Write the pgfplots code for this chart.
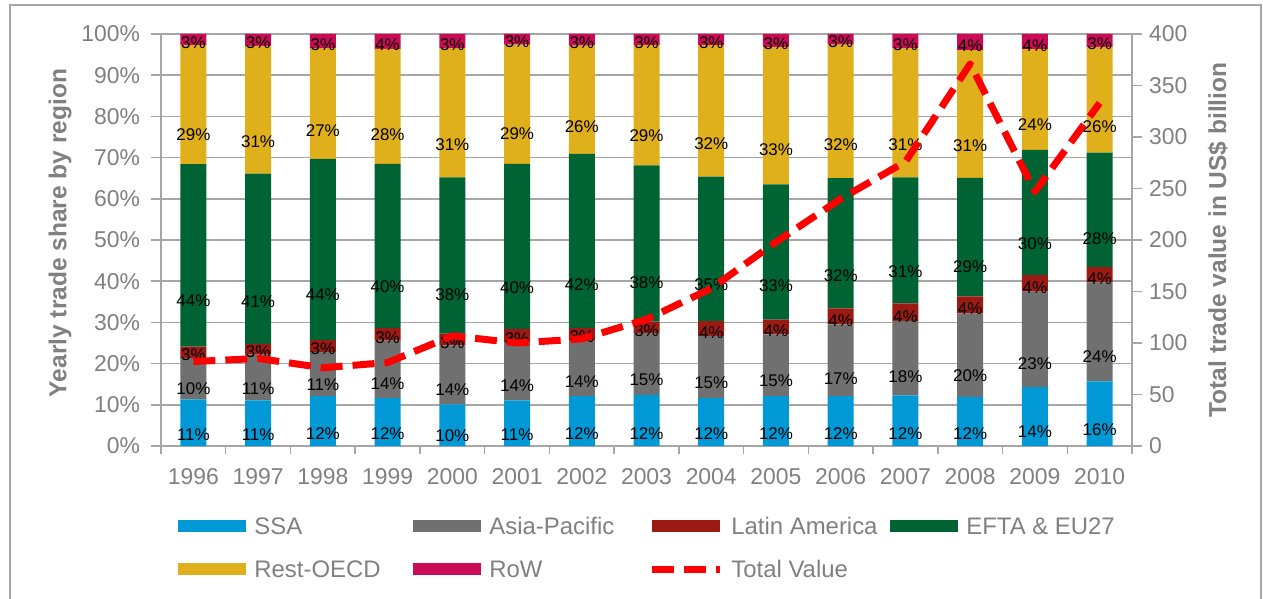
\documentclass[border=0pt]{standalone}
\usepackage{fontspec}
\setmainfont{Liberation Sans}
\usepackage{pgfplots}
\usepackage{pgfplotstable}
\pgfplotsset{compat=1.18}

\definecolor{ssa}{RGB}{0,153,213}
\definecolor{ap}{RGB}{112,112,112}
\definecolor{la}{RGB}{155,27,20}
\definecolor{efta}{RGB}{0,99,52}
\definecolor{ro}{RGB}{224,176,28}
\definecolor{rowc}{RGB}{201,12,85}
\definecolor{tot}{RGB}{255,0,0}
\definecolor{axgray}{RGB}{166,166,166}
\definecolor{txtgray}{RGB}{128,128,128}

% shares in % of yearly trade (x = 0 for 1996 ... 14 for 2010)
\pgfplotstableread{
x  ssa  ap   la  efta ro   row
0  11.3 10.1 2.7 44.3 28.9 2.7
1  11.1 11.1 2.6 41.3 31.0 2.9
2  12.1 10.7 2.9 44.0 26.9 3.4
3  11.6 14.0 3.0 39.9 27.9 3.6
4  10.1 14.3 2.9 37.9 31.4 3.4
5  11.1 14.2 3.1 40.1 28.9 2.6
6  12.1 13.6 2.9 42.3 26.3 2.8
7  12.4 15.0 2.8 37.9 29.2 2.7
8  11.6 15.1 3.6 35.1 31.9 2.7
9  12.1 15.0 3.6 32.8 33.4 3.1
10 12.1 17.4 3.9 31.6 32.4 2.6
11 12.3 18.1 4.2 30.6 31.4 3.4
12 11.9 20.3 4.1 28.8 31.0 3.9
13 14.3 23.2 4.0 30.4 24.4 3.7
14 15.7 24.0 3.7 27.8 25.7 3.1
}\shares

% total trade value, US$ billion
\pgfplotstableread{
x  tot
0  82
1  85
2  76
3  81
4  107
5  100
6  104
7  123
8  153
9  198
10 240
11 276
12 371
13 247
14 333
}\total

\pgfplotsset{
  barleg/.style={legend image code/.code={\fill[##1] (0bp,-3bp) rectangle (34bp,3bp);}},
  lineleg/.style={legend image code/.code={\draw[##1] (0bp,0bp) -- (34bp,0bp);}},
  seg/.style={fill=#1, draw=none, barleg},
  totline/.style={color=tot, line width=3.5bp, dash pattern=on 11bp off 5bp, line join=round},
  common/.style={
    at={(0,0)}, anchor=south west,
    scale only axis, width=485.5bp, height=206bp,
    xmin=-0.5, xmax=14.5,
    tick align=outside,
    major tick length=5bp, minor tick length=4bp,
    tick style={axgray, line width=0.75bp},
    axis line style={draw=axgray, line width=0.75bp, -},
    ticklabel style={font=\fontsize{11.5}{13}\selectfont, text=txtgray},
    /pgf/number format/assume math mode=true,
  },
}

\begin{document}
\begin{tikzpicture}
\useasboundingbox (-80.5bp,-76.5bp) rectangle (551bp,223bp);
\draw[axgray, line width=0.75bp] (-75.5bp,-78bp) -- (-75.5bp,220.5bp) -- (550bp,220.5bp) -- (550bp,-78bp);

\begin{axis}[
  common,
  ymin=0, ymax=100,
  ybar stacked, bar width=13bp,
  clip=false,
  axis x line*=bottom, axis y line*=left,
  xtick={0,...,14},
  xticklabels={1996,1997,1998,1999,2000,2001,2002,2003,2004,2005,2006,2007,2008,2009,2010},
  xticklabel style={yshift=-2.5bp},
  yticklabel style={xshift=-2bp},
  major x tick style={draw=none},
  minor xtick={-0.5,0.5,...,14.5},
  ytick={0,10,...,100},
  yticklabel={\pgfmathprintnumber{\tick}\%},
  ymajorgrids,
  major grid style={axgray, line width=0.75bp},
  point meta=explicit,
  visualization depends on=rawy \as \rawy,
  nodes near coords={\pgfmathprintnumber[fixed,precision=0]{\pgfplotspointmeta}\%},
  every node near coord/.append style={font=\fontsize{8.5}{10}\selectfont, text=black,
    anchor=center, yshift=-0.515bp*\rawy},
  legend columns=4,
  legend cell align=left,
  legend style={at={(axis description cs:0.0175,-0.1733)}, anchor=north west,
    draw=none, fill=none, inner sep=0pt,
    font=\fontsize{12}{14}\selectfont, text=txtgray,
    nodes={inner xsep=4bp, inner ysep=0pt, text height=8.6bp, text depth=0pt},
    row sep=12.9bp},
]
\addplot[seg=ssa]  table[x=x, y=ssa,  meta=ssa]  {\shares};
\addlegendentry{\makebox[75.5bp][l]{SSA}}
\addplot[seg=ap]   table[x=x, y=ap,   meta=ap]   {\shares};
\addlegendentry{\makebox[75.5bp][l]{Asia-Pacific}}
\addplot[seg=la]   table[x=x, y=la,   meta=la]   {\shares};
\addlegendentry{\makebox[75.5bp][l]{Latin America}}
\addplot[seg=efta] table[x=x, y=efta, meta=efta] {\shares};
\addlegendentry{\makebox[75.5bp][l]{EFTA \& EU27}}
\addplot[seg=ro]   table[x=x, y=ro,   meta=ro]   {\shares};
\addlegendentry{\makebox[75.5bp][l]{Rest-OECD}}
\addplot[seg=rowc] table[x=x, y=row,  meta=row]  {\shares};
\addlegendentry{\makebox[75.5bp][l]{RoW}}
\addlegendimage{totline, lineleg}
\addlegendentry{\makebox[75.5bp][l]{Total Value}}
\end{axis}

\begin{axis}[
  common,
  ymin=0, ymax=400,
  axis x line=none, axis y line*=right,
  ytick={0,50,...,400},
]
\addplot[totline] table[x=x, y=tot] {\total};
\end{axis}

\node[rotate=90, text=txtgray, font=\fontsize{12.3}{14}\selectfont\bfseries]
  at (-50.5bp,106.5bp) {Yearly trade share by region};
\node[rotate=90, text=txtgray, font=\fontsize{12.3}{14}\selectfont\bfseries]
  at (528.5bp,103bp) {Total trade value in US\$ billion};
\end{tikzpicture}
\end{document}
